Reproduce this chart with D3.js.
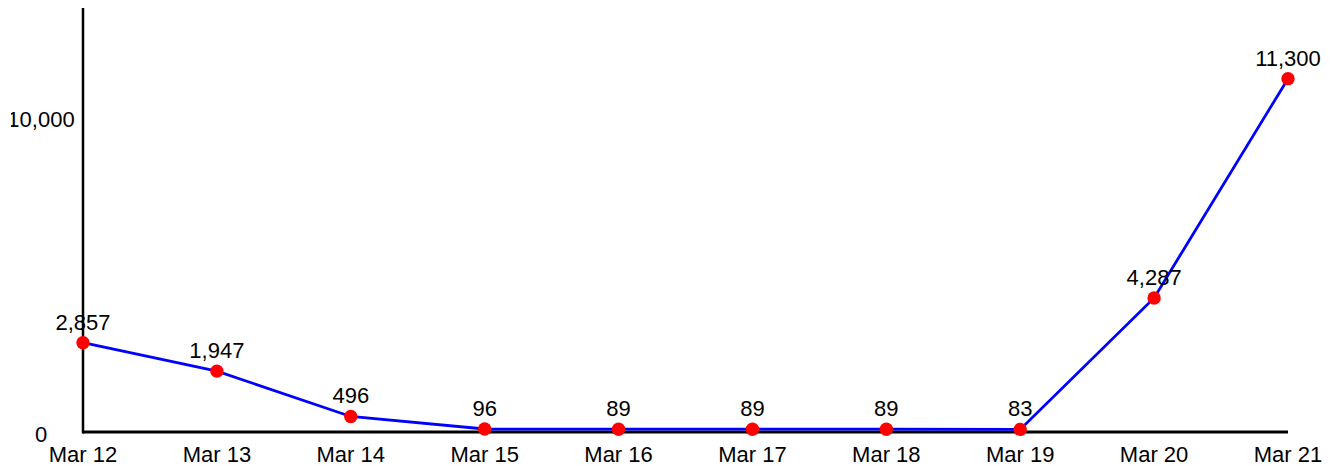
<!DOCTYPE html>
<html>
<head>
<meta charset="utf-8">
<script src="https://cdn.jsdelivr.net/npm/d3@7"></script>
<style>
  body { margin: 0; background: #fff; }
  svg text { font-family: "Liberation Sans", Arial, sans-serif; font-size: 22px; fill: #000; }
</style>
</head>
<body>
<svg id="chart" width="1336" height="466"></svg>
<script>
const days = ["Mar 12", "Mar 13", "Mar 14", "Mar 15", "Mar 16", "Mar 17", "Mar 18", "Mar 19", "Mar 20", "Mar 21"];
const counts = [2857, 1947, 496, 96, 89, 89, 89, 83, 4287, 11300];
const yTicks = [0, 10000];

const svg = d3.select("#chart");
const plotLeft = 83, plotRight = 1288, plotTop = 8, plotBottom = 432;

const x = d3.scalePoint().domain(days).range([plotLeft, plotRight]);
const y = d3.scaleLinear().domain([0, 13560]).range([plotBottom, plotTop]);
const fmt = d3.format(",");

// the y labels get cut off on the left like in the original
svg.append("clipPath").attr("id", "yclip")
  .append("rect").attr("x", 11).attr("y", 0).attr("width", 1336).attr("height", 466);

// axis lines, no tick marks
svg.append("line")
  .attr("x1", plotLeft).attr("x2", plotLeft)
  .attr("y1", plotTop).attr("y2", plotBottom + 1.5)
  .attr("stroke", "#000").attr("stroke-width", 2.5);
svg.append("line")
  .attr("x1", plotLeft).attr("x2", plotRight)
  .attr("y1", plotBottom).attr("y2", plotBottom)
  .attr("stroke", "#000").attr("stroke-width", 3);

// y labels
svg.append("g").attr("clip-path", "url(#yclip)")
  .selectAll(".ylab")
  .data(yTicks)
  .enter().append("text")
    .attr("class", "ylab")
    .attr("x", 41)
    .attr("y", d => y(d))
    .attr("dy", d => d === 0 ? "0.45em" : "0.33em")
    .attr("text-anchor", "middle")
    .text(d => fmt(d));

// x labels
svg.selectAll(".xlab")
  .data(days)
  .enter().append("text")
    .attr("class", "xlab")
    .attr("x", d => x(d))
    .attr("y", plotBottom + 30)
    .attr("text-anchor", "middle")
    .text(d => d);

const pts = days.map((d, i) => ({ day: d, v: counts[i] }));

const line = d3.line().x(d => x(d.day)).y(d => y(d.v));
svg.append("path")
  .datum(pts)
  .attr("d", line)
  .attr("fill", "none")
  .attr("stroke", "#0000ff")
  .attr("stroke-width", 2.8);

svg.selectAll(".dot")
  .data(pts)
  .enter().append("circle")
    .attr("class", "dot")
    .attr("cx", d => x(d.day))
    .attr("cy", d => y(d.v))
    .attr("r", 6.7)
    .attr("fill", "#ff0000");

svg.selectAll(".vlab")
  .data(pts)
  .enter().append("text")
    .attr("class", "vlab")
    .attr("x", d => x(d.day))
    .attr("y", d => y(d.v) - 13)
    .attr("text-anchor", "middle")
    .text(d => fmt(d.v));
</script>
</body>
</html>
